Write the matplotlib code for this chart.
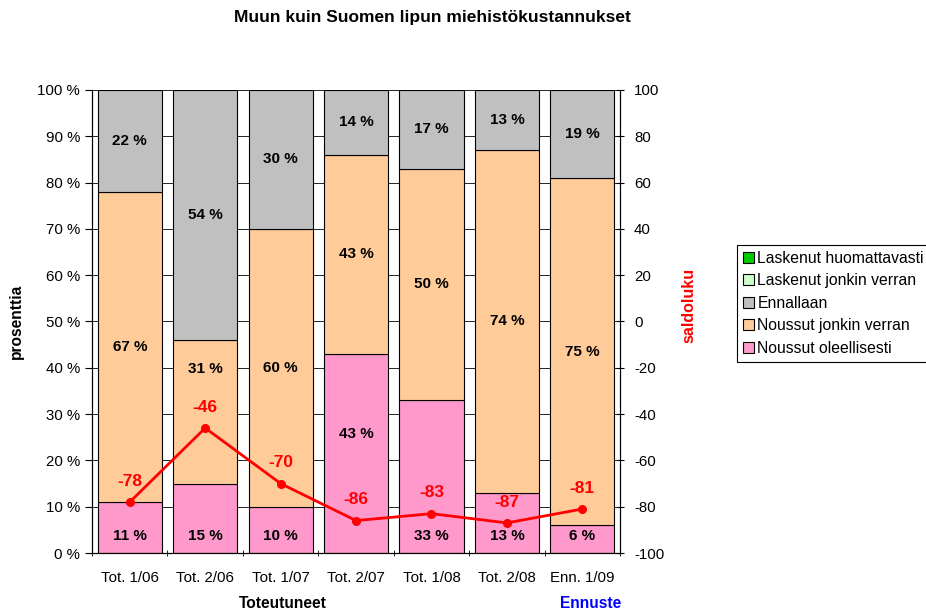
import matplotlib
matplotlib.use("Agg")
import matplotlib.pyplot as plt
from matplotlib.patches import Patch

plt.rcParams['font.family'] = ['Liberation Sans', 'DejaVu Sans']
plt.rcParams['font.size'] = 10.8
plt.rcParams['axes.unicode_minus'] = False

categories = ["Tot. 1/06", "Tot. 2/06", "Tot. 1/07", "Tot. 2/07", "Tot. 1/08", "Tot. 2/08", "Enn. 1/09"]
noussut_oleellisesti = [11, 15, 10, 43, 33, 13, 6]
noussut_jonkin = [67, 31, 60, 43, 50, 74, 75]
ennallaan = [22, 54, 30, 14, 17, 13, 19]
saldoluku = [-78, -46, -70, -86, -83, -87, -81]

legend_labels = ["Laskenut huomattavasti", "Laskenut jonkin verran", "Ennallaan",
                 "Noussut jonkin verran", "Noussut oleellisesti"]
legend_colors = ["#00CC00", "#CCFFCC", "#C0C0C0", "#FFCC99", "#FF99CC"]

fig = plt.figure(figsize=(9.26, 6.15), dpi=100)
ax = fig.add_axes([0.0994, 0.1008, 0.5702, 0.7529])
x = list(range(len(categories)))
w = 0.85

ax.set_axisbelow(True)
ax.yaxis.grid(True, color="black", linewidth=0.6)

ax.bar(x, noussut_oleellisesti, w, color="#FF99CC", edgecolor="black", linewidth=0.8)
ax.bar(x, noussut_jonkin, w, bottom=noussut_oleellisesti, color="#FFCC99", edgecolor="black", linewidth=0.8)
bottoms = [a + b for a, b in zip(noussut_oleellisesti, noussut_jonkin)]
ax.bar(x, ennallaan, w, bottom=bottoms, color="#C0C0C0", edgecolor="black", linewidth=0.8)

# segment labels (a few were moved by hand in the original)
for i in x:
    p, o, g = noussut_oleellisesti[i], noussut_jonkin[i], ennallaan[i]
    py = 3.7 if p < 30 or i == 4 else p * 0.6
    oy = p + o / 2
    if i == 1:
        oy = 39.7
    kw = dict(ha="center", va="center", fontweight="bold", fontsize=11)
    ax.text(i, py, f"{p} %", **kw)
    ax.text(i, oy, f"{o} %", **kw)
    ax.text(i, p + o + g / 2, f"{g} %", **kw)

ax.set_xlim(-0.5, len(categories) - 0.5)
ax.set_ylim(0, 100)
ax.set_yticks(range(0, 101, 10))
ax.set_yticklabels([f"{v} %" for v in range(0, 101, 10)])
ax.set_xticks(x)
ax.set_xticklabels(categories)
ax.set_xticks([i - 0.5 for i in range(len(categories) + 1)], minor=True)
ax.tick_params(axis="x", which="major", length=0, pad=13)
ax.tick_params(axis="x", which="minor", length=5, direction="inout")
ax.tick_params(axis="y", length=5)
ax.spines["top"].set_visible(False)
ax.set_ylabel("prosenttia", fontweight="bold", fontsize=11.2, labelpad=10)

ax2 = ax.twinx()
ax2.plot(x, saldoluku, color="red", linewidth=2, marker="o", markersize=5.5)
for i, v in zip(x, saldoluku):
    ax2.annotate(str(v), (i, v), xytext=(0, 15), textcoords="offset points",
                 ha="center", va="center", color="red", fontweight="bold", fontsize=12.5)
ax2.set_ylim(-100, 100)
ax2.set_yticks(range(-100, 101, 20))
ax2.tick_params(axis="y", length=6, direction="inout", pad=7)
ax2.spines["top"].set_visible(False)
ax2.set_ylabel("saldoluku", color="red", fontweight="bold", fontsize=11.5)
ax2.yaxis.set_label_coords(1.117, 0.535)

fig.text(0.4665, 0.972, "Muun kuin Suomen lipun miehistökustannukset", ha="center", va="center",
         fontweight="bold", fontsize=12.5)
fig.text(283 / 926, 1 - 603 / 615, "Toteutuneet", ha="center", va="center", fontweight="bold",
         fontsize=11.2)
fig.text(591 / 926, 1 - 603 / 615, "Ennuste", ha="center", va="center", fontweight="bold",
         fontsize=11.2, color="#0000FF")

handles = [Patch(facecolor=c, edgecolor="black", linewidth=0.8) for c in legend_colors]
leg = fig.legend(handles, legend_labels, loc="upper left", bbox_to_anchor=(0.796, 0.601),
                 fancybox=False, edgecolor="black", framealpha=1, fontsize=11.3,
                 handlelength=0.7, handleheight=0.7, handletextpad=0.25, labelspacing=0.48,
                 borderpad=0.35, borderaxespad=0)
leg.get_frame().set_linewidth(0.8)

fig.savefig("out.png", dpi=100)
